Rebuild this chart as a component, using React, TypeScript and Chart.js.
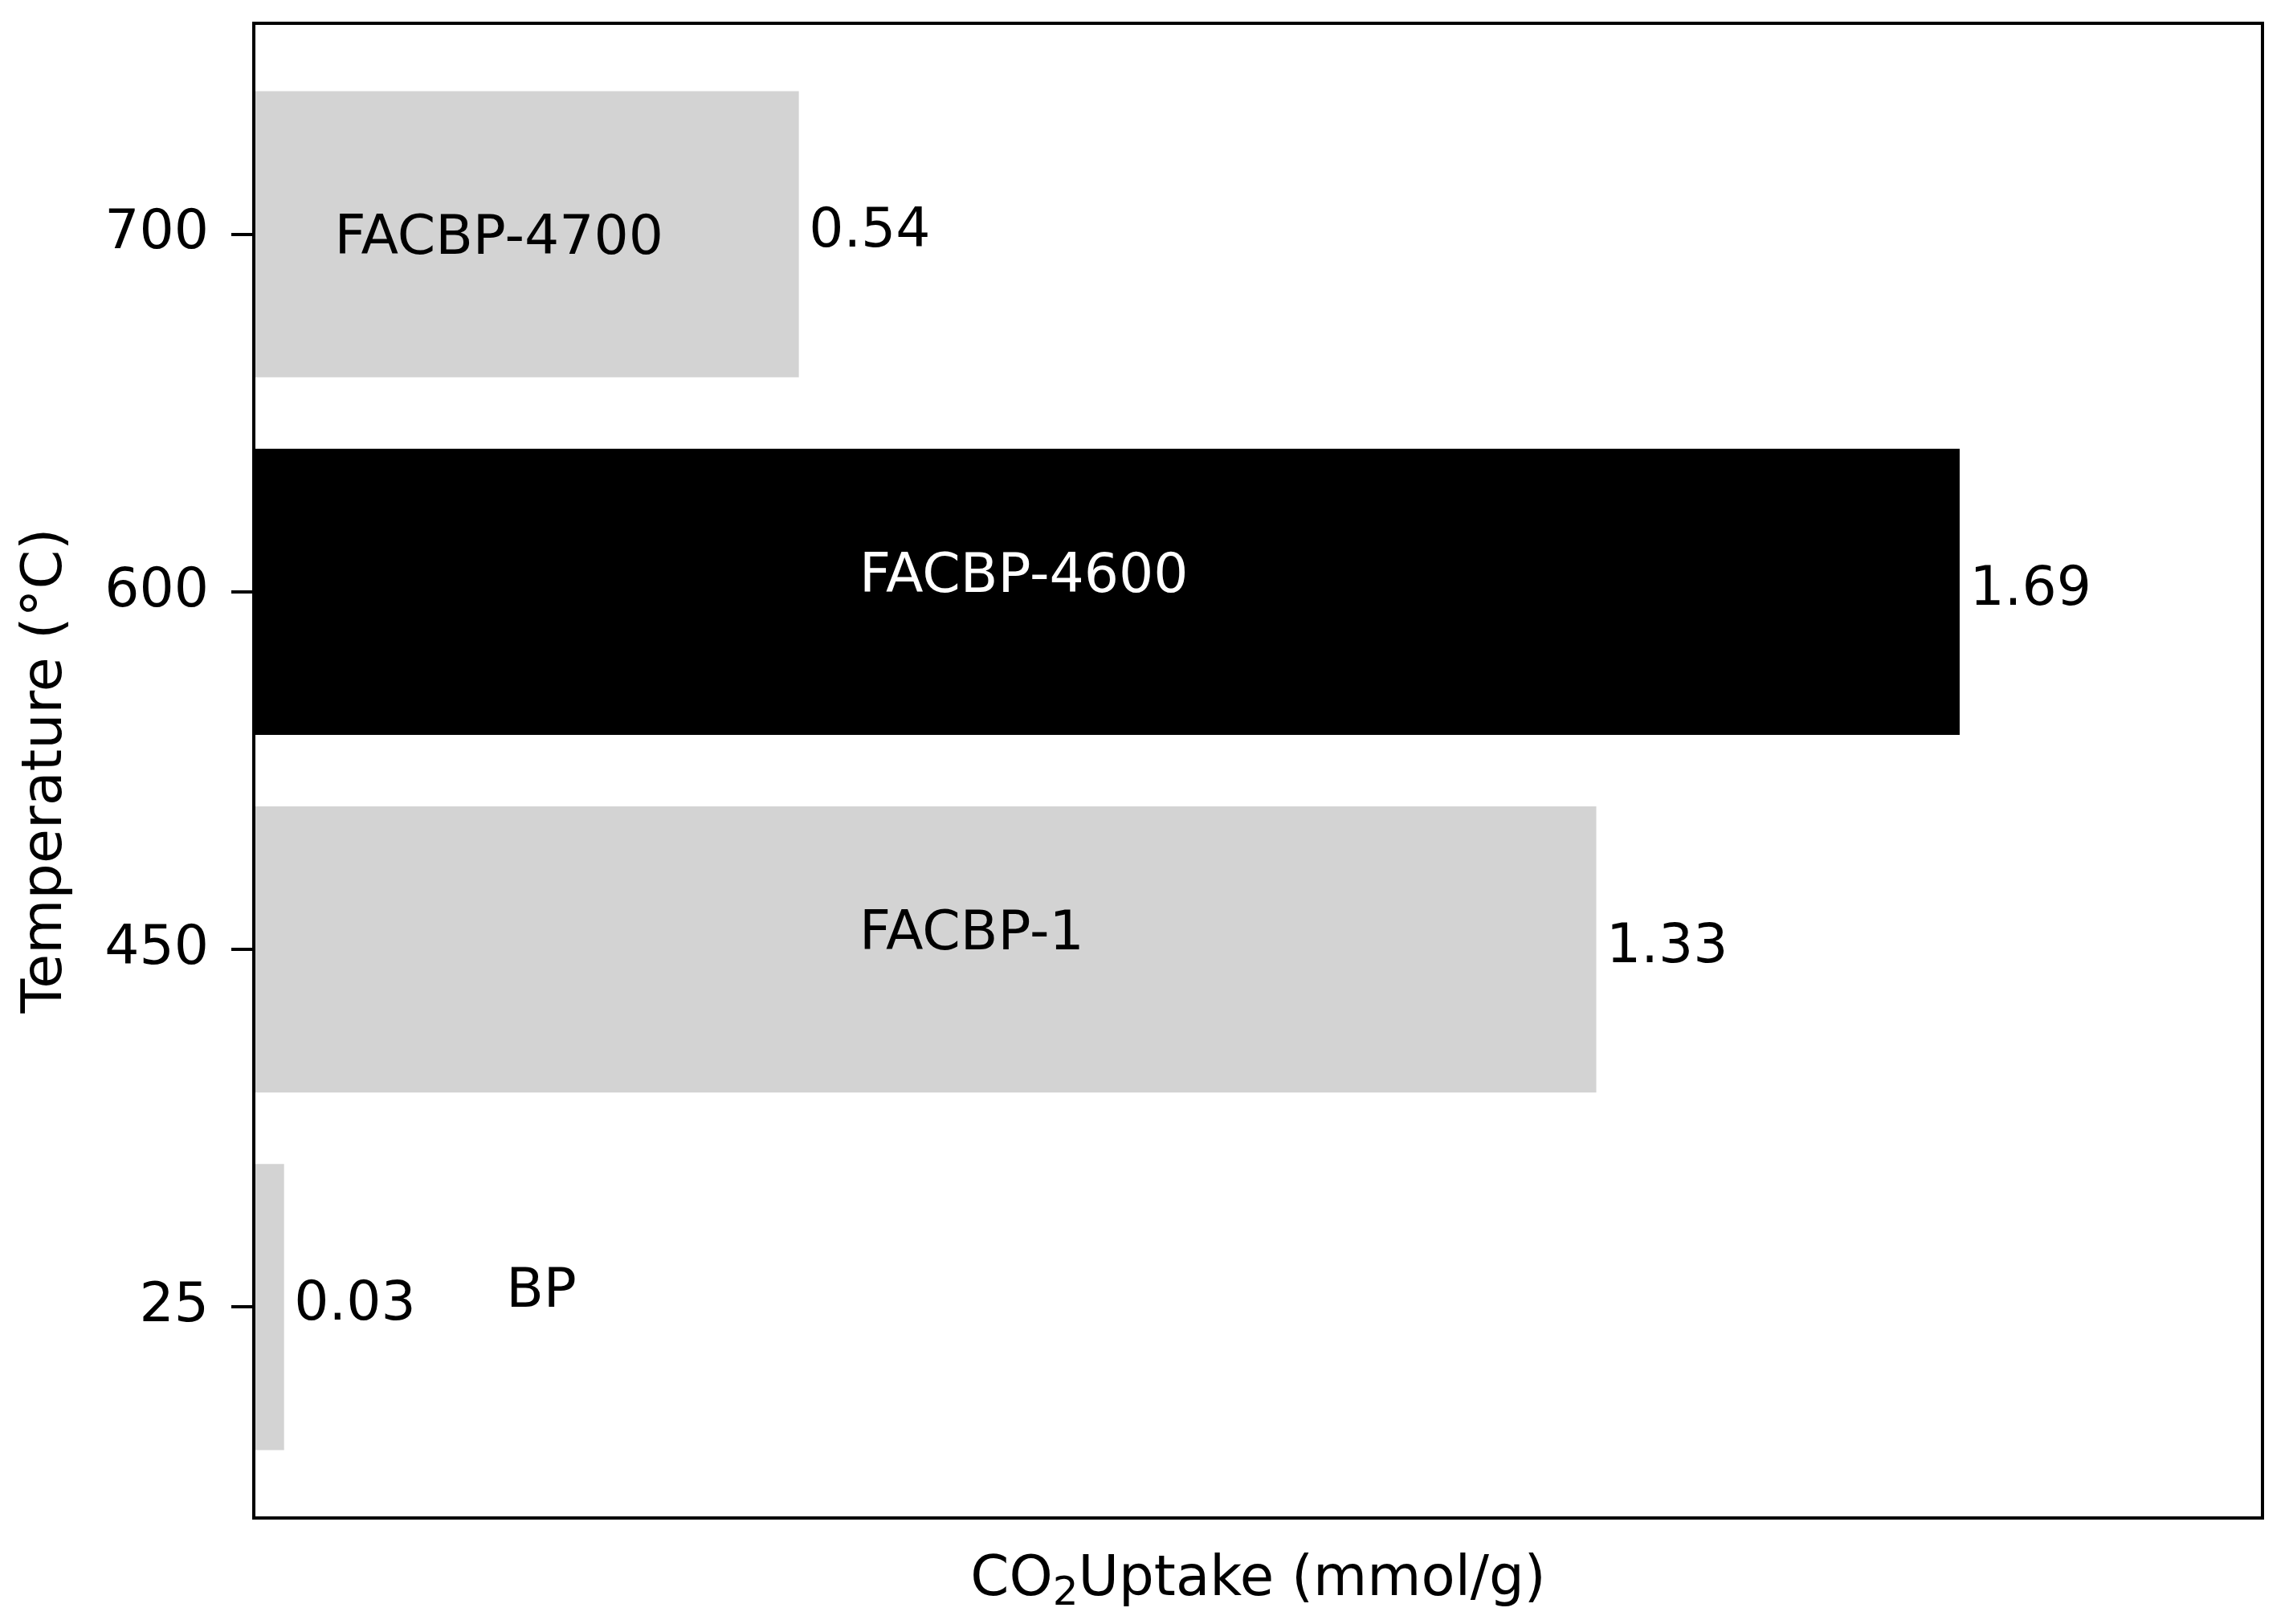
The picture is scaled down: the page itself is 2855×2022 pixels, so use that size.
import React, { useEffect, useRef } from "react";
import { Chart, registerables } from "chart.js";

Chart.register(...registerables);

// ---- data ----
const temperatures = ["25", "450", "600", "700"];
const uptake = [0.03, 1.33, 1.69, 0.54];
const sampleNames = ["BP", "FACBP-1", "FACBP-4600", "FACBP-4700"];
// annotation anchors (data units)
const nameX = [0.25, 0.6, 0.6, 0.08];
const nameY = [0, 1, 2, 2.946];
const valueOffset = 0.01;
const xMax = 1.99;
const xTitleParts = ["CO", "2", "Uptake (mmol/g)"];

// ---- styles ----
const barColors = ["#d3d3d3", "#d3d3d3", "#000000", "#d3d3d3"];
const nameColors = ["#000000", "#000000", "#ffffff", "#000000"];
const FONT = "DejaVu Sans";
const FS = 68;

const W = 2855;
const H = 2022;

export default function App() {
  const ref = useRef<HTMLCanvasElement | null>(null);

  useEffect(() => {
    if (!ref.current) return;
    const annot = {
      id: "annot",
      afterDatasetsDraw(chart: any) {
        const { ctx, chartArea, scales } = chart;
        const xs = scales.x;
        const ys = scales.y;
        ctx.save();
        // y tick marks
        ctx.strokeStyle = "#000";
        ctx.lineWidth = 4;
        temperatures.forEach((_, i) => {
          const py = Math.round(ys.getPixelForValue(i));
          ctx.beginPath();
          ctx.moveTo(chartArea.left - 28, py);
          ctx.lineTo(chartArea.left, py);
          ctx.stroke();
        });
        // frame
        ctx.strokeRect(chartArea.left, chartArea.top, chartArea.right - chartArea.left, chartArea.bottom - chartArea.top);
        ctx.font = `${FS}px "${FONT}"`;
        ctx.textAlign = "left";
        // value labels
        ctx.textBaseline = "middle";
        ctx.fillStyle = "#000";
        uptake.forEach((v, i) => {
          ctx.fillText(v.toFixed(2), xs.getPixelForValue(v + valueOffset), ys.getPixelForValue(i) - 2);
        });
        // sample names
        ctx.textBaseline = "alphabetic";
        sampleNames.forEach((n, i) => {
          ctx.fillStyle = nameColors[i];
          ctx.fillText(n, xs.getPixelForValue(nameX[i]), ys.getPixelForValue(nameY[i]));
        });
        // x title with subscript
        ctx.fillStyle = "#000";
        const mainFont = `${FS + 1}px "${FONT}"`;
        const subFont = `50px "${FONT}"`;
        ctx.font = mainFont;
        const w0 = ctx.measureText(xTitleParts[0]).width;
        const w2 = ctx.measureText(xTitleParts[2]).width;
        ctx.font = subFont;
        const w1 = ctx.measureText(xTitleParts[1]).width;
        const total = w0 + w1 + w2;
        let cx = (chartArea.left + chartArea.right) / 2 - total / 2;
        const baseY = 1986;
        ctx.font = mainFont;
        ctx.fillText(xTitleParts[0], cx, baseY);
        cx += w0;
        ctx.font = subFont;
        ctx.fillText(xTitleParts[1], cx, baseY + 12);
        cx += w1;
        ctx.font = mainFont;
        ctx.fillText(xTitleParts[2], cx, baseY);
        ctx.restore();
      },
    };

    const chart = new Chart(ref.current, {
      type: "bar",
      data: {
        datasets: [
          {
            data: uptake.map((v, i) => ({ x: v, y: i })),
            backgroundColor: barColors,
            borderWidth: 0,
            barPercentage: 0.8,
            categoryPercentage: 1,
          },
        ],
      },
      options: {
        indexAxis: "y",
        animation: false,
        responsive: false,
        devicePixelRatio: 1,
        layout: { padding: { top: 29, right: 38, left: 0, bottom: 0 } },
        plugins: { legend: { display: false }, tooltip: { enabled: false } },
        scales: {
          x: {
            type: "linear",
            min: 0,
            max: xMax,
            offset: false,
            ticks: { display: false },
            grid: { display: false },
            border: { display: false },
            title: { display: false },
            afterFit: (s: any) => {
              s.height = 132;
              s.paddingLeft = 0;
              s.paddingRight = 0;
            },
          },
          y: {
            type: "linear",
            min: -0.59,
            max: 3.59,
            offset: false,
            afterBuildTicks: (s: any) => {
              s.ticks = temperatures.map((_, i) => ({ value: i }));
            },
            ticks: {
              autoSkip: false,
              color: "#000",
              font: { family: FONT, size: FS },
              padding: 31,
              callback: (v: any) => temperatures[v as number] ?? "",
            },
            grid: {
              display: true,
              offset: false,
              drawOnChartArea: false,
              drawTicks: true,
              tickLength: 25,
              tickWidth: 0,
              tickColor: "rgba(0,0,0,0)",
              color: "rgba(0,0,0,0)",
            },
            border: { display: false },
            title: {
              display: true,
              text: "Temperature (°C)",
              color: "#000",
              font: { family: FONT, size: 70 },
              padding: { top: 16, bottom: 0 },
            },
            afterFit: (s: any) => {
              s.width = 316;
              s.paddingTop = 0;
              s.paddingBottom = 0;
            },
          },
        },
      } as any,
      plugins: [annot],
    });
    return () => chart.destroy();
  }, []);

  return (
    <div style={{ position: "fixed", left: 0, top: 0, width: W, height: H, background: "#fff" }}>
      <canvas ref={ref} width={W} height={H} style={{ width: W, height: H, display: "block" }} />
    </div>
  );
}
